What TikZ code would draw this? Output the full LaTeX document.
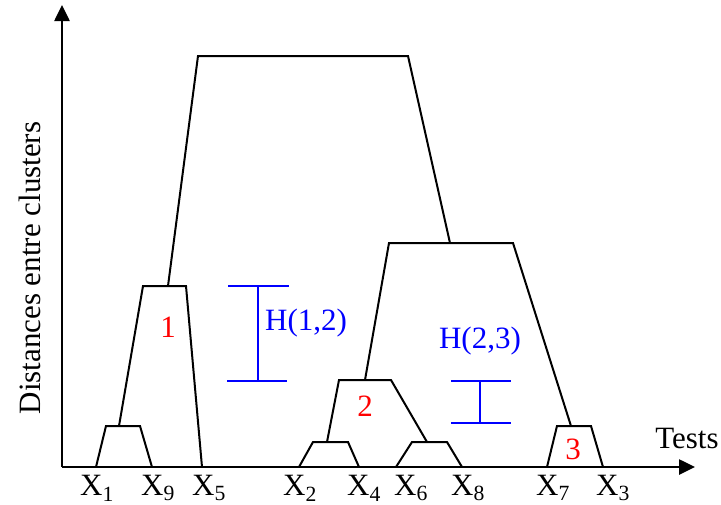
\documentclass[tikz,border=0pt]{standalone}
\usepackage{fontspec}
\setmainfont{Liberation Serif}
\usetikzlibrary{arrows.meta}
\begin{document}
\begin{tikzpicture}[x=1pt,y=-1pt,
  axis/.style={line width=2.6pt,-{Triangle[length=16pt,width=15pt]}},
  tree/.style={line width=2pt,line join=miter},
  hbar/.style={line width=2pt,blue},
  lab/.style={inner sep=0pt,font=\fontsize{31}{36}\selectfont},
  num/.style={lab,text=red},
  hlab/.style={lab,text=blue}]
\useasboundingbox (0,0) rectangle (721,504);
% axes
\coordinate (O) at (62,467);
\coordinate (ytop) at (62,5);
\coordinate (xend) at (695,467);
\draw[axis] (O) -- (ytop);
\draw[axis] (O) -- (xend);
\node[lab,rotate=90] (ylab) at (30,268) {Distances entre clusters};
\node[lab] (tests) at (687,438) {Tests};
% leaf coordinates
\coordinate (x1) at (96,467);
\coordinate (x9) at (152,467);
\coordinate (x5) at (202,467);
\coordinate (x2) at (299,467);
\coordinate (x4) at (359,467);
\coordinate (x6) at (396,467);
\coordinate (x8) at (462,467);
\coordinate (x7) at (547,467);
\coordinate (x3) at (603,467);
% X1-X9
\draw[tree] (x1) -- (106,426) -- (140,426) -- (x9);
% cluster 1
\draw[tree] (119,426) -- (143,286) -- (186,286) -- (x5);
% X2-X4
\draw[tree] (x2) -- (313,442) -- (348,442) -- (x4);
% X6-X8
\draw[tree] (x6) -- (412,442) -- (447,442) -- (x8);
% cluster 2
\draw[tree] (327,442) -- (339,380) -- (391,380) -- (427,442);
% cluster 3
\draw[tree] (x7) -- (557,426) -- (591,426) -- (x3);
% cluster (2,3)
\draw[tree] (365,380) -- (389,243) -- (513,243) -- (571,426);
% top
\draw[tree] (168,286) -- (198,56) -- (408,56) -- (450,243);
% leaf labels
\foreach \n/\s/\xx in {x1/1/97, x9/9/158, x5/5/209, x2/2/300, x4/4/364, x6/6/411, x8/8/468, x7/7/553, x3/3/613}
  \node[lab] (l\n) at (\xx,488) {X\textsubscript{\s}};
% cluster numbers
\node[num] (n1) at (168,327) {1};
\node[num] (n2) at (365,406) {2};
\node[num] (n3) at (573,449) {3};
% H(1,2)
\coordinate (h1t) at (258,286);
\coordinate (h1b) at (258,381);
\draw[hbar] (228,286) -- (289,286);
\draw[hbar] (227,381) -- (287,381);
\draw[hbar] (h1t) -- (h1b);
\node[hlab,anchor=west] (h12) at (265,323) {H(1,2)};
% H(2,3)
\coordinate (h2t) at (480,381);
\coordinate (h2b) at (480,423);
\draw[hbar] (451,381) -- (511,381);
\draw[hbar] (451,423) -- (511,423);
\draw[hbar] (h2t) -- (h2b);
\node[hlab] (h23) at (480,341) {H(2,3)};
\end{tikzpicture}
\end{document}
